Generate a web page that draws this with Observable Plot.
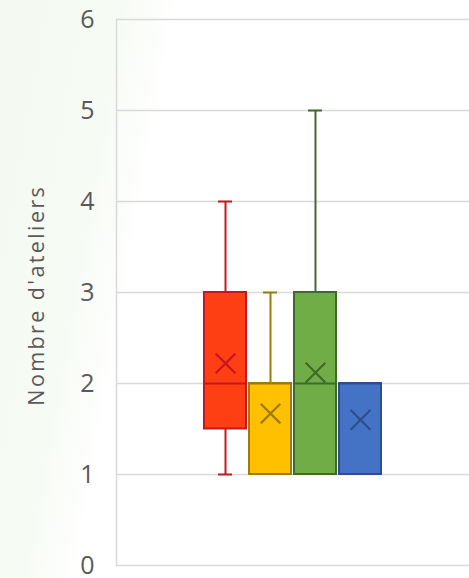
<!DOCTYPE html>
<html>
<head>
<meta charset="utf-8">
<script src="https://cdn.jsdelivr.net/npm/d3@7"></script>
<script src="https://cdn.jsdelivr.net/npm/@observablehq/plot@0.6"></script>
<style>
  html, body { margin: 0; padding: 0; }
  body { width: 469px; height: 578px; overflow: hidden;
    background: linear-gradient(100deg, #f3f9f0 0%, #f7fbf5 22%, #ffffff 32%); }
  #chart svg { display: block; background: transparent; }
  #chart svg .ylabel text { letter-spacing: 2.4px; }
</style>
</head>
<body>
<div id="chart"></div>
<script>
const categories = ["A", "B", "C", "D"];
const whiskerLow = [1, 1, 1, 1];
const q1 = [1.5, 1, 1, 1];
const median = [2, 2, 2, 2];
const q3 = [3, 2, 3, 2];
const whiskerHigh = [4, 3, 5, 2];
const means = [2.22, 1.67, 2.12, 1.6];
const fills = ["#fe3f14", "#ffc000", "#70ad47", "#4472c4"];
const strokes = ["#c8161e", "#9c7a0e", "#3e6b2a", "#2c4f8c"];
const yTicks = [0, 1, 2, 3, 4, 5, 6];
const yLabel = "Nombre d'ateliers";

const data = categories.map((c, i) => ({
  cat: c, lo: whiskerLow[i], q1: q1[i], med: median[i], q3: q3[i], hi: whiskerHigh[i],
  mean: means[i], fill: fills[i], stroke: strokes[i]
}));
const upper = data.filter(d => d.hi > d.q3);
const lower = data.filter(d => d.lo < d.q1);

const chart = Plot.plot({
  width: 469,
  height: 578,
  marginLeft: 116,
  marginRight: 0,
  marginTop: 19,
  marginBottom: 13,
  style: { fontFamily: "Open Sans, Liberation Sans, sans-serif", background: "transparent" },
  x: { domain: categories, range: [203, 382], paddingInner: 0.07, paddingOuter: 0, axis: null },
  y: { domain: [0, 6], ticks: yTicks, label: null, axis: null },
  marks: [
    Plot.ruleY(yTicks, { stroke: "#d9d9d9", strokeWidth: 1.5 }),
    Plot.frame({ anchor: "left", stroke: "#d9d9d9", strokeWidth: 1.5 }),
    Plot.text(yTicks, { y: d => d, text: d => String(d), frameAnchor: "left", dx: -29, textAnchor: "middle", fontSize: 25, fill: "#595959" }),
    Plot.text([yLabel], { frameAnchor: "left", textAnchor: "middle", dx: -79, y: 2.97, rotate: -90, fontSize: 21.5, fill: "#595959", className: "ylabel" }),
    // whiskers
    Plot.ruleX(upper, { x: "cat", y1: "q3", y2: "hi", stroke: "stroke", strokeWidth: 2 }),
    Plot.ruleX(lower, { x: "cat", y1: "lo", y2: "q1", stroke: "stroke", strokeWidth: 2 }),
    Plot.tickY(upper, { x: "cat", y: "hi", stroke: "stroke", strokeWidth: 2, insetLeft: 14, insetRight: 14 }),
    Plot.tickY(lower, { x: "cat", y: "lo", stroke: "stroke", strokeWidth: 2, insetLeft: 14, insetRight: 14 }),
    // boxes
    Plot.barY(data, { x: "cat", y1: "q1", y2: "q3", fill: "fill", stroke: "stroke", strokeWidth: 2 }),
    Plot.tickY(data, { x: "cat", y: "med", stroke: "stroke", strokeWidth: 2 }),
    // means
    Plot.dot(data, { x: "cat", y: "mean", symbol: "times", r: 9, stroke: "stroke", strokeWidth: 2.2 })
  ]
});
document.getElementById("chart").append(chart);
</script>
</body>
</html>
